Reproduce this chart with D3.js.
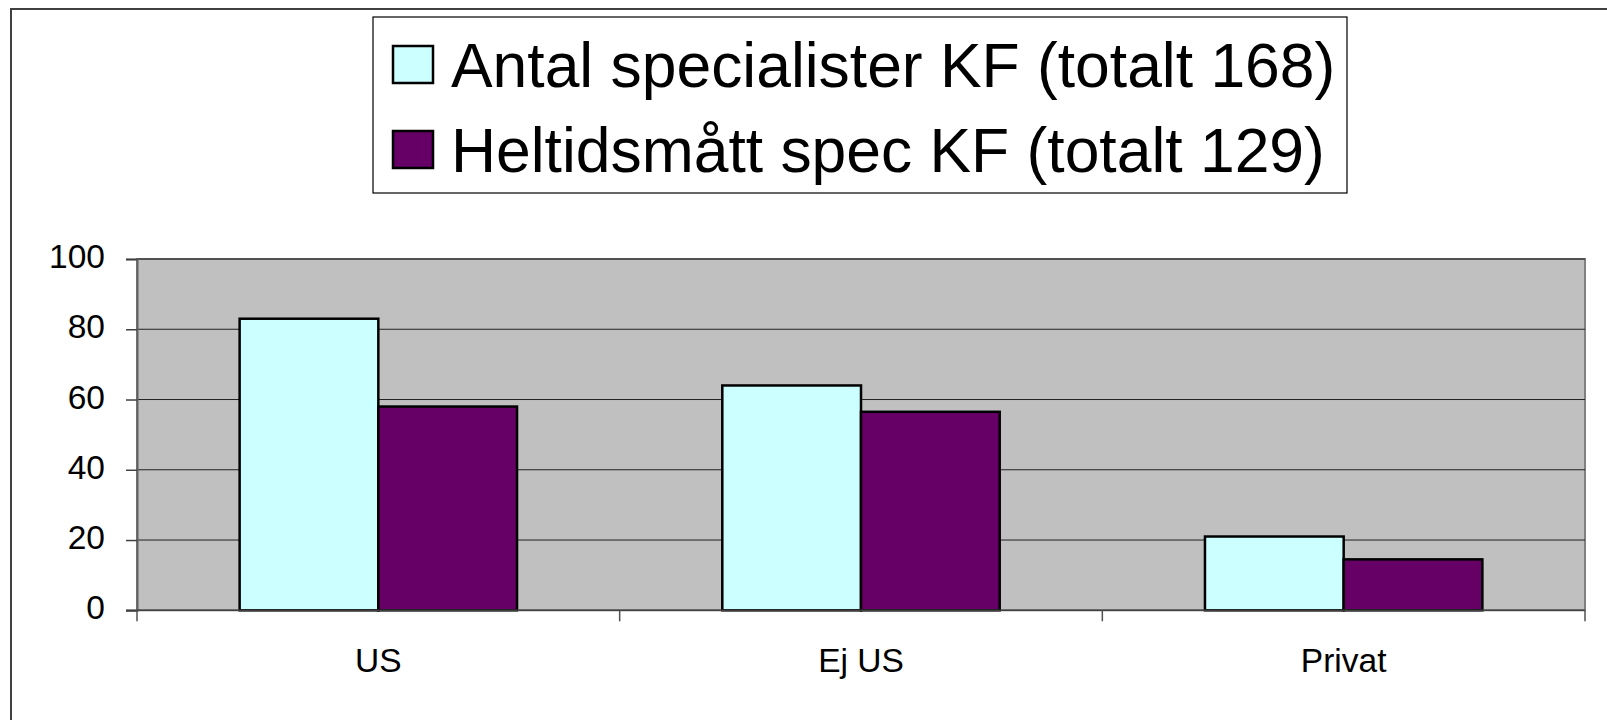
<!DOCTYPE html>
<html>
<head>
<meta charset="utf-8">
<script src="https://cdn.jsdelivr.net/npm/d3@7"></script>
<style>
  html, body { margin: 0; padding: 0; background: #ffffff; overflow: hidden; }
  #chart { width: 1607px; height: 720px; }
</style>
</head>
<body>
<div id="chart"></div>
<script>
'use strict'

// data
const categories = ["US", "Ej US", "Privat"]
const seriesNames = ["Antal specialister KF (totalt 168)", "Heltidsmått spec KF (totalt 129)"]
const antalSpec = [83, 64, 21]
const heltidSpec = [58, 56.5, 14.5]
const yTicks = [0, 20, 40, 60, 80, 100]

const seriesColors = ["#CCFFFF", "#660066"]
const font_family = '"Liberation Sans", Arial, sans-serif'

////////////////////////////////////
//////////// svg setup /////////////
////////////////////////////////////

const svgWidth = 1607
const svgHeight = 720

// plot area in page pixels
const plot = { left: 137, right: 1585, top: 259, bottom: 610.3 }

const svg = d3.select('#chart')
    .append('svg')
    .attr('width', svgWidth)
    .attr('height', svgHeight)
    .attr('viewBox', `0 0 ${svgWidth} ${svgHeight}`)

// outer chart border (runs off the right and bottom)
svg.append('rect')
    .attr('x', 11)
    .attr('y', 9)
    .attr('width', svgWidth + 20)
    .attr('height', svgHeight + 20)
    .attr('fill', 'none')
    .attr('stroke', '#404040')
    .attr('stroke-width', 2)

////////////////////////////////////
//////////// Scales ////////////////
////////////////////////////////////

const x0 = d3.scaleBand()
    .domain(categories)
    .range([plot.left, plot.right])
    .padding(0)

const x1 = d3.scaleBand()
    .domain([0, 1])
    .range([0, x0.bandwidth()])
    .paddingInner(0)
    .paddingOuter(0.74)

const y = d3.scaleLinear()
    .domain([0, 100])
    .range([plot.bottom, plot.top])

const rows = categories.map((c, i) => ({ category: c, values: [antalSpec[i], heltidSpec[i]] }))

////////////////////////////////////
//////////// plot area /////////////
////////////////////////////////////

svg.append('rect')
    .attr('x', plot.left)
    .attr('y', plot.top)
    .attr('width', plot.right - plot.left)
    .attr('height', plot.bottom - plot.top)
    .attr('fill', '#C0C0C0')
    .attr('stroke', '#808080')
    .attr('stroke-width', 2)

// gridlines
svg.selectAll('.grid')
    .data(yTicks.filter(d => d > 0))
    .join('line')
    .attr('class', 'grid')
    .attr('x1', plot.left)
    .attr('x2', plot.right)
    .attr('y1', d => y(d))
    .attr('y2', d => y(d))
    .attr('stroke', '#222222')
    .attr('stroke-width', 1)

// y axis
const yAxis = svg.append('g')
    .attr('transform', `translate(${plot.left},0)`)
    .call(d3.axisLeft(y).tickValues(yTicks).tickSize(11).tickPadding(21))

yAxis.select('.domain').attr('stroke', '#606060').attr('stroke-width', 2)
yAxis.selectAll('.tick line').attr('stroke', '#404040').attr('stroke-width', 1.5)
yAxis.selectAll('.tick text')
    .attr('dy', null)
    .attr('y', 8.5)
    .attr('fill', '#000')
    .style('font-family', font_family)
    .style('font-size', '33.5px')

////////////////////////////////////
//////////// bars //////////////////
////////////////////////////////////

const groups = svg.selectAll('.cat')
    .data(rows)
    .join('g')
    .attr('class', 'cat')
    .attr('transform', d => `translate(${x0(d.category)},0)`)

groups.selectAll('rect')
    .data(d => d.values.map((v, s) => ({ s: s, value: v })))
    .join('rect')
    .attr('x', d => x1(d.s))
    .attr('width', x1.bandwidth())
    .attr('y', d => y(d.value))
    .attr('height', d => y(0) - y(d.value))
    .attr('fill', d => seriesColors[d.s])
    .attr('stroke', '#000')
    .attr('stroke-width', 2.5)

// x axis
const xAxis = svg.append('g')
    .attr('transform', `translate(0,${plot.bottom})`)

xAxis.append('line')
    .attr('x1', plot.left - 11)
    .attr('x2', plot.right)
    .attr('y1', 0)
    .attr('y2', 0)
    .attr('stroke', '#404040')
    .attr('stroke-width', 1.5)

const boundaries = categories.map(c => x0(c)).concat([plot.right])
xAxis.selectAll('.xtick')
    .data(boundaries)
    .join('line')
    .attr('class', 'xtick')
    .attr('x1', d => d)
    .attr('x2', d => d)
    .attr('y1', 0)
    .attr('y2', 11)
    .attr('stroke', '#505050')
    .attr('stroke-width', 1.5)

xAxis.selectAll('.xlabel')
    .data(categories)
    .join('text')
    .attr('class', 'xlabel')
    .attr('x', d => x0(d) + x0.bandwidth() / 2)
    .attr('y', 62)
    .attr('text-anchor', 'middle')
    .attr('fill', '#000')
    .style('font-family', font_family)
    .style('font-size', '33.5px')
    .text(d => d)

////////////////////////////////////
//////////// legend ////////////////
////////////////////////////////////

const legend = svg.append('g')

legend.append('rect')
    .attr('x', 373)
    .attr('y', 17)
    .attr('width', 974)
    .attr('height', 176)
    .attr('fill', '#fff')
    .attr('stroke', '#000')
    .attr('stroke-width', 1.2)

const legendItems = legend.selectAll('.item')
    .data(seriesNames)
    .join('g')
    .attr('class', 'item')
    .attr('transform', (d, i) => `translate(0,${i * 85})`)

legendItems.append('rect')
    .attr('x', 393)
    .attr('y', 46)
    .attr('width', 40)
    .attr('height', 37)
    .attr('fill', (d, i) => seriesColors[i])
    .attr('stroke', '#000')
    .attr('stroke-width', 2.5)

legendItems.append('text')
    .attr('x', 451)
    .attr('y', 87)
    .attr('fill', '#000')
    .style('font-family', font_family)
    .style('font-size', '62.4px')
    .text(d => d)
</script>
</body>
</html>
